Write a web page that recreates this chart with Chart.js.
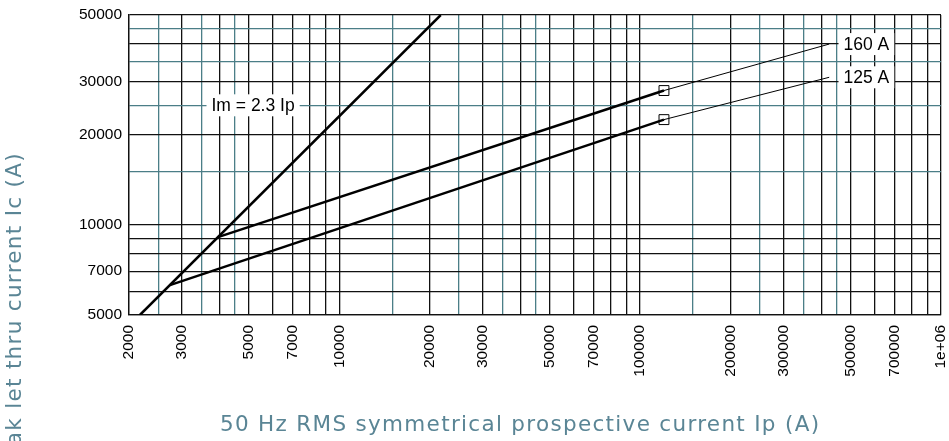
<!DOCTYPE html>
<html>
<head>
<meta charset="utf-8">
<script src="https://cdn.jsdelivr.net/npm/chart.js@4.4.0/dist/chart.umd.min.js"></script>
<style>
  html, body { margin: 0; padding: 0; background: #fff; }
</style>
</head>
<body>
<canvas id="js--chart" width="949" height="441"></canvas>
<script>
// grid lines on both log axes, and the ones that carry a label
const xGrid = [2000, 2500, 3000, 3500, 4000, 4500, 5000, 6000, 7000, 8000, 9000,
    10000, 15000, 20000, 25000, 30000, 35000, 40000, 45000, 50000, 60000, 70000, 80000, 90000,
    100000, 150000, 200000, 250000, 300000, 350000, 400000, 450000, 500000, 600000, 700000, 800000, 900000, 1000000];
const xLabels = [2000, 3000, 5000, 7000, 10000, 20000, 30000, 50000, 70000, 100000, 200000, 300000, 500000, 700000, 1000000];
const yGrid = [5000, 6000, 7000, 8000, 9000, 10000, 15000, 20000, 25000, 30000, 35000, 40000, 45000, 50000];
const yLabels = [5000, 7000, 10000, 20000, 30000, 50000];
const tealLines = [2500, 3500, 4500, 15000, 25000, 35000, 45000, 150000, 250000, 350000, 450000];

// Im = 2.3 Ip
const ratioIp = [2174, 21740];
const ratioIc = [5000, 50000];

// 160 A
const a160Ip = [3950, 120000];
const a160Ic = [9090, 28000];
const a160TailIp = [120000, 425000];
const a160TailIc = [28000, 40000];

// 125 A
const a125Ip = [2735, 120000];
const a125Ic = [6290, 22400];
const a125TailIp = [120000, 425000];
const a125TailIc = [22400, 31000];

// square markers
const markerIp = [120000, 120000];
const markerIc = [28000, 22400];

// text on the plot
const noteText = ["Im = 2.3 Ip", "160 A", "125 A"];
const noteIp = [5170, 565000, 565000];
const noteIc = [25000, 40000, 31000];

const xTitle = "50 Hz RMS symmetrical prospective current Ip (A)";
const yTitle = "Peak let thru current Ic (A)";

const teal = "#4b7e87";
const dark = "#111111";
const titleColor = "#5a8595";
const tickFont = { family: '"Liberation Sans", Arial, sans-serif', size: 15.5 };

function pts(xs, ys) {
    return xs.map(function (v, i) { return { x: v, y: ys[i] }; });
}

function line(xs, ys, w) {
    return {
        data: pts(xs, ys),
        borderColor: "#000",
        borderWidth: w,
        pointRadius: 0,
        fill: false,
        tension: 0
    };
}

const notesPlugin = {
    id: "notes",
    afterDatasetsDraw(chart) {
        const ctx = chart.ctx;
        const x = chart.scales.x, y = chart.scales.y;
        ctx.save();
        ctx.font = '17.5px "Liberation Sans", Arial, sans-serif';
        ctx.textAlign = "center";
        ctx.textBaseline = "middle";
        noteText.forEach(function (t, i) {
            const px = x.getPixelForValue(noteIp[i]);
            const py = y.getPixelForValue(noteIc[i]);
            const w = ctx.measureText(t).width;
            ctx.fillStyle = "#fff";
            ctx.fillRect(px - w / 2 - 5, py - 11, w + 10, 22);
            ctx.fillStyle = "#000";
            ctx.fillText(t, px, py + 1);
        });
        ctx.restore();
    },
    afterDraw(chart) {
        const ctx = chart.ctx;
        ctx.save();
        ctx.font = '21.5px "DejaVu Sans", sans-serif';
        // fit the title to the width it has in the picture
        const plain = ctx.measureText(xTitle).width;
        const spacing = (599 - plain) / (xTitle.length - 1);
        ctx.letterSpacing = spacing.toFixed(2) + "px";
        ctx.fillStyle = titleColor;
        ctx.textAlign = "left";
        ctx.textBaseline = "middle";
        ctx.fillText(xTitle, 220, 425);
        ctx.translate(15, 152);
        ctx.rotate(-Math.PI / 2);
        ctx.textAlign = "right";
        ctx.fillText(yTitle, 0, 0);
        ctx.restore();
    }
};

const config = {
    type: "line",
    data: {
        datasets: [
            line(ratioIp, ratioIc, 2.5),
            line(a160Ip, a160Ic, 2.5),
            line(a160TailIp, a160TailIc, 1),
            line(a125Ip, a125Ic, 2.5),
            line(a125TailIp, a125TailIc, 1),
            {
                data: pts(markerIp, markerIc),
                showLine: false,
                pointStyle: "rect",
                pointRadius: 7,
                pointBorderWidth: 1,
                pointBorderColor: "#000",
                pointBackgroundColor: "#fff"
            }
        ]
    },
    options: {
        responsive: false,
        animation: false,
        devicePixelRatio: 1,
        layout: { padding: { top: 15, right: 6, left: 0, bottom: 0 } },
        plugins: { legend: { display: false }, tooltip: { enabled: false } },
        scales: {
            x: {
                type: "logarithmic",
                min: 2000,
                max: 1000000,
                afterBuildTicks: function (s) { s.ticks = xGrid.map(function (v) { return { value: v }; }); },
                afterFit: function (s) { s.height = 126; s.paddingLeft = 0; s.paddingRight = 0; },
                grid: {
                    color: function (c) { return c.tick && tealLines.includes(c.tick.value) ? teal : dark; },
                    lineWidth: 1.3,
                    drawTicks: false
                },
                border: { color: dark, width: 1.3 },
                ticks: {
                    autoSkip: false,
                    minRotation: 90,
                    maxRotation: 90,
                    padding: 10,
                    color: "#000",
                    font: tickFont,
                    callback: function (v) {
                        if (!xLabels.includes(v)) return "";
                        return v === 1000000 ? "1e+06" : String(v);
                    }
                }
            },
            y: {
                type: "logarithmic",
                min: 5000,
                max: 50000,
                afterBuildTicks: function (s) { s.ticks = yGrid.map(function (v) { return { value: v }; }); },
                afterFit: function (s) { s.width = 129; s.paddingTop = 0; s.paddingBottom = 0; },
                grid: {
                    color: function (c) { return c.tick && tealLines.includes(c.tick.value) ? teal : dark; },
                    lineWidth: 1.3,
                    drawTicks: false
                },
                border: { color: dark, width: 1.3 },
                ticks: {
                    autoSkip: false,
                    padding: 7,
                    color: "#000",
                    font: tickFont,
                    callback: function (v) { return yLabels.includes(v) ? String(v) : ""; }
                }
            }
        }
    },
    plugins: [notesPlugin]
};

new Chart(document.getElementById("js--chart"), config);
</script>
</body>
</html>
